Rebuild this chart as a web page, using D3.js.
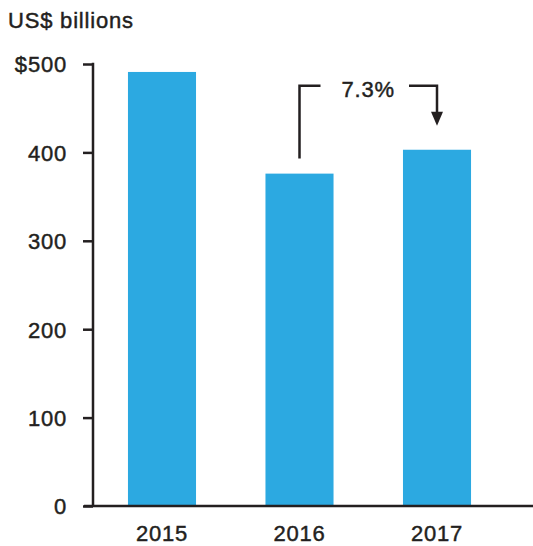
<!DOCTYPE html>
<html>
<head>
<meta charset="utf-8">
<script src="https://cdn.jsdelivr.net/npm/d3@7"></script>
<style>
  body { margin: 0; background: #fff; }
  text { font-family: "Liberation Sans", Arial, sans-serif; fill: #231f20; stroke: #231f20; stroke-width: 0.45px; }
</style>
</head>
<body>
<div id="chart"></div>
<script>
// chart data
var years = ["2015", "2016", "2017"];
var revenue = [491, 376, 403];
var yTicks = [0, 100, 200, 300, 400, 500];
var growthLabel = "7.3%";

var width = 533, height = 546;

var svg = d3.select("#chart")
  .append("svg")
  .attr("width", width)
  .attr("height", height);

// scales
var x = d3.scaleBand()
  .domain(years)
  .range([94, 505])
  .paddingInner(0.505)
  .paddingOuter(0.247);

var y = d3.scaleLinear()
  .domain([0, 500])
  .range([506, 64]);

// title
svg.append("text")
  .attr("x", 8)
  .attr("y", 28)
  .style("font-size", "22px")
  .style("letter-spacing", "0.8px")
  .text("US$ billions");

// bars
svg.selectAll(".bar")
  .data(revenue)
  .enter()
  .append("rect")
  .attr("class", "bar")
  .attr("x", function (d, i) { return x(years[i]); })
  .attr("width", x.bandwidth())
  .attr("y", function (d) { return y(d); })
  .attr("height", function (d) { return y(0) - y(d); })
  .style("fill", "#2ca9e1");

// y axis
var yAxis = svg.append("g")
  .attr("transform", "translate(93,0)")
  .call(d3.axisLeft(y)
    .tickValues(yTicks)
    .tickSize(10)
    .tickPadding(16)
    .tickFormat(function (d) { return d === 500 ? "$" + d : d; }));

yAxis.select(".domain").remove();
yAxis.selectAll(".tick line")
  .style("stroke", "#231f20")
  .style("stroke-width", 2.5);
yAxis.selectAll(".tick text")
  .style("font-size", "22px")
  .style("letter-spacing", "0.8px")
  .attr("dy", "0.36em")
  .style("fill", "#231f20");

svg.append("line")
  .attr("x1", 93).attr("x2", 93)
  .attr("y1", y(500) - 1.25).attr("y2", y(0))
  .style("stroke", "#231f20")
  .style("stroke-width", 2.5);

// x axis
svg.append("line")
  .attr("x1", 84).attr("x2", width)
  .attr("y1", y(0)).attr("y2", y(0))
  .style("stroke", "#231f20")
  .style("stroke-width", 2.5);

svg.selectAll(".xlabel")
  .data(years)
  .enter()
  .append("text")
  .attr("class", "xlabel")
  .attr("x", function (d) { return x(d) + x.bandwidth() / 2; })
  .attr("y", 541)
  .attr("text-anchor", "middle")
  .style("font-size", "22px")
  .style("letter-spacing", "0.8px")
  .text(function (d) { return d; });

// growth annotation 2016 -> 2017
var x1 = x(years[1]) + x.bandwidth() / 2,
  x2 = x(years[2]) + x.bandwidth() / 2,
  topY = y(revenue[2]) - 64;

svg.append("path")
  .attr("d", "M" + x1 + "," + (y(revenue[1]) - 15) + " V" + topY + " H" + (x1 + 21))
  .style("fill", "none")
  .style("stroke", "#231f20")
  .style("stroke-width", 2.5);

svg.append("path")
  .attr("d", "M" + (x2 - 28) + "," + topY + " H" + x2 + " V" + (y(revenue[2]) - 36))
  .style("fill", "none")
  .style("stroke", "#231f20")
  .style("stroke-width", 2.5);

svg.append("path")
  .attr("d", "M" + (x2 - 6) + "," + (y(revenue[2]) - 38) + " L" + (x2 + 6) + "," + (y(revenue[2]) - 38) + " L" + x2 + "," + (y(revenue[2]) - 24) + " Z")
  .style("fill", "#231f20");

svg.append("text")
  .attr("x", (x1 + x2) / 2)
  .attr("y", topY + 11)
  .attr("text-anchor", "middle")
  .style("font-size", "22px")
  .style("letter-spacing", "0.8px")
  .text(growthLabel);
</script>
</body>
</html>
